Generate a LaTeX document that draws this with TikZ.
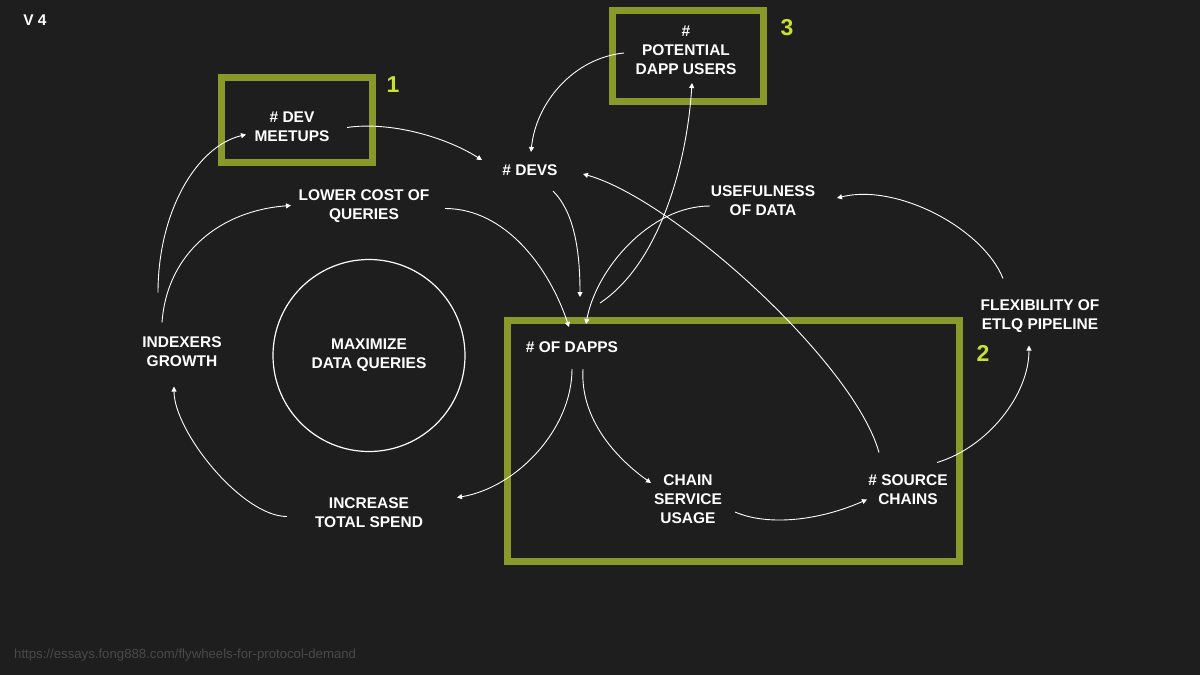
\documentclass[tikz,border=0pt]{standalone}
\usepackage{fontspec}
\setmainfont{Liberation Sans}
\definecolor{BoardGrey}{HTML}{1E1E1E}
\definecolor{FrameOlive}{HTML}{8A9A2A}
\definecolor{TagLime}{HTML}{C9E22B}
\definecolor{UrlGrey}{HTML}{4A4A4A}
\usetikzlibrary{arrows.meta,positioning,calc}

\begin{document}
\begin{tikzpicture}[x=1pt,y=-1pt,
    var/.style={text=white,align=center,inner sep=0pt,font=\fontsize{15.5}{19}\selectfont\bfseries},
    tagnum/.style={text=TagLime,inner sep=0pt,font=\fontsize{23}{23}\selectfont\bfseries},
    hilite/.style={draw=FrameOlive,line width=7pt},
    flow/.style={draw=white,line width=0.9pt,-{Triangle[length=5pt,width=5pt]}}]
      \fill[BoardGrey] (0,0) rectangle (1200,675);
      \useasboundingbox (0,0) rectangle (1200,675);
      \node[var] (ver) at (35,20) {V 4};
      \node[anchor=west,inner sep=0pt,text=UrlGrey,font=\fontsize{13.2}{13.2}\selectfont] (url) at (14,655) {https://essays.fong888.com/flywheels-for-protocol-demand};
      \draw[hilite] (221.5,77.5) rectangle (372.5,162.5);
      \draw[hilite] (612.5,10.5) rectangle (763.5,101.5);
      \draw[hilite] (507.5,320.5) rectangle (959.5,561.5);
      \node[tagnum] (one) at (393,85) {1};
      \node[tagnum] (two) at (983,353) {2};
      \node[tagnum] (three) at (787,28) {3};
      \node[var] (meetups) at (292,126.5) {\# DEV\\MEETUPS};
      \node[var] (users) at (686,50) {\#\\POTENTIAL\\DAPP USERS};
      \node[var] (devs) at (530,170) {\# DEVS};
      \node[var] (lowcost) at (364,206.5) {LOWER COST OF\\QUERIES};
      \node[var] (useful) at (763,201) {USEFULNESS\\OF DATA};
      \node[var] (flex) at (1040,316.5) {FLEXIBILITY OF\\ETLQ PIPELINE};
      \node[var] (growth) at (182,351.5) {INDEXERS\\GROWTH};
      \node[var,draw=white,line width=1.2pt,circle,minimum size=192pt] (goal) at (369,355.5) {MAXIMIZE\\DATA QUERIES};
      \node[var] (dapps) at (572,347) {\# OF DAPPS};
      \node[var] (chain) at (688,499) {CHAIN\\SERVICE\\USAGE};
      \node[var] (source) at (908,489.5) {\# SOURCE\\CHAINS};
      \node[var] (spend) at (369,512.5) {INCREASE\\TOTAL SPEND};
      \draw[flow] ($(growth)+(-24,-59)$) .. controls +(0,-80) and +(-50,12) .. ($(meetups)+(-46,8)$);
      \draw[flow] ($(growth)+(-20,-29)$) .. controls +(5,-70) and +(-70,5) .. ($(lowcost)+(-73,-1)$);
      \draw[flow] ($(meetups)+(55,1)$) .. controls +(40,-6) and +(-40,-25) .. ($(devs)+(-48,-10)$);
      \draw[flow] ($(users)+(-62,3)$) .. controls +(-50,5) and +(5,-50) .. ($(devs)+(1,-18)$);
      \draw[flow] ($(dapps)+(28,-44)$) .. controls +(60,-40) and +(-5,80) .. ($(users)+(6,33)$);
      \draw[flow] ($(useful)+(-53,5)$) .. controls +(-60,0) and +(10,-55) .. ($(dapps)+(14,-23)$);
      \draw[flow] ($(source)+(-29,-37)$) .. controls +(-25,-90) and +(90,25) .. ($(devs)+(53,4)$);
      \draw[flow] ($(flex)+(-37,-38)$) .. controls +(-20,-50) and +(60,-15) .. ($(useful)+(74,-3)$);
      \draw[flow] ($(source)+(29,-27)$) .. controls +(50,-15) and +(0,50) .. ($(flex)+(-11,29)$);
      \draw[flow] ($(chain)+(47,13)$) .. controls +(35,15) and +(-45,20) .. ($(source)+(-41,10)$);
      \draw[flow] ($(dapps)+(11,22)$) .. controls +(-3,50) and +(-35,-25) .. ($(chain)+(-37,-16)$);
      \draw[flow] ($(dapps)+(0,22)$) .. controls +(0,60) and +(60,-10) .. ($(spend)+(88,-15)$);
      \draw[flow] ($(spend)+(-82,4)$) .. controls +(-45,0) and +(0,45) .. ($(growth)+(-8,35)$);
      \draw[flow] ($(lowcost)+(81,2)$) .. controls +(60,0) and +(-20,-60) .. ($(dapps)+(-3,-20)$);
      \draw[flow] ($(devs)+(23,21)$) .. controls +(20,20) and +(0,-50) .. ($(dapps)+(8,-50)$);
    \end{tikzpicture}
\end{document}
